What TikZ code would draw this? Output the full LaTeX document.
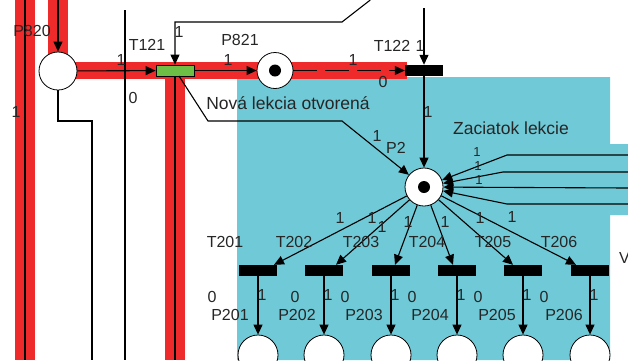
\documentclass[tikz,border=0pt]{standalone}
\usepackage{fontspec}
\setmainfont{Liberation Sans}
\usetikzlibrary{arrows.meta}
\definecolor{redband}{RGB}{238,42,42}
\definecolor{cyanbg}{RGB}{111,201,214}
\definecolor{greenT}{RGB}{108,190,69}
\begin{document}
\begin{tikzpicture}[x=1pt,y=-1pt,
  place/.style={circle,draw=black,fill=white,line width=0.8pt,minimum size=38pt,inner sep=0pt},
  tok/.style={circle,fill=black,minimum size=12pt,inner sep=0pt},
  trans/.style={rectangle,fill=black,minimum width=38pt,minimum height=11pt,inner sep=0pt},
  gtrans/.style={rectangle,draw=black,line width=0.8pt,fill=greenT,minimum width=38pt,minimum height=11pt,inner sep=0pt},
  arc/.style={line width=1.1pt,-{Triangle[length=10pt,width=9pt]}},
  wire/.style={line width=1.1pt},
  band/.style={redband,line width=20pt},
  lbl/.style={font=\fontsize{16}{16}\selectfont,inner sep=0pt,text=black!85},
  sml/.style={font=\fontsize{13}{13}\selectfont,inner sep=0pt,text=black!85},
  big/.style={font=\fontsize{17.5}{17.5}\selectfont,inner sep=0pt,text=black!85},
]
\useasboundingbox (0,0) rectangle (628,360);
\clip (0,0) rectangle (628,360);
% background
\fill[cyanbg] (237,77) -- (610,77) -- (610,144) -- (628,144) -- (628,215) -- (610,215) -- (610,360) -- (237,360) -- cycle;
% red bands
\draw[band] (25,0) -- (25,360);
\draw[band] (58,0) -- (58,70);
\draw[band,line width=17pt] (58,70.5) -- (407,70.5);
\draw[band] (175,70) -- (175,360);
% nodes
\node[place] (P820) at (58,71) {};
\node[place,minimum size=36pt] (P821) at (275,70.5) {};
\node[tok] (k821) at (P821) {};
\node[gtrans] (T121) at (175,70.5) {};
\node[trans] (T122) at (424,70.5) {};
\node[place] (P2) at (424,187) {};
\node[tok] (k2) at (P2) {};
\foreach \i/\x in {1/258,2/324,3/391,4/457,5/523,6/590}{
  \node[trans] (T20\i) at (\x,270.5) {};
  \node[place,minimum size=40pt] (P20\i) at (\x,355) {};
}
% coordinates
\coordinate (tA) at (370.3,0);
\coordinate (tB) at (342,22);
\coordinate (tC) at (175,22);
\coordinate (tD) at (424,8);
\coordinate (lTop) at (125,10);
\coordinate (lBot) at (125,360);
\coordinate (q1) at (58,121);
\coordinate (q2) at (92,121);
\coordinate (q3) at (92,360);
\coordinate (bl1) at (25,0);
\coordinate (bl2) at (25,360);
\coordinate (in820) at (58,0);
\coordinate (d0) at (179,76);
\coordinate (d1) at (208,121);
\coordinate (d2) at (342,121);
\coordinate (T121end) at (175,360);
\coordinate (r1a) at (628,155); \coordinate (r1b) at (507,155);
\coordinate (r2a) at (628,172); \coordinate (r2b) at (503,172);
\coordinate (r3a) at (628,188);
\coordinate (r4a) at (628,204); \coordinate (r4b) at (507,204);
\coordinate (e1) at ([xshift=16pt]T201.north);
\coordinate (e2) at ([xshift=12pt]T202.north);
\coordinate (e3) at ([xshift=4pt]T203.north);
\coordinate (e4) at ([xshift=-4pt]T204.north);
\coordinate (e5) at ([xshift=-10pt]T205.north);
\coordinate (e6) at ([xshift=-14pt]T206.north);
% connectors
\draw[wire] (bl1) -- (bl2);
\draw[wire] (lTop) -- (lBot);
\draw[arc] (in820) -- (P820);
\draw[wire] (P820.south) -- (q1) -- (q2) -- (q3);
\draw[arc] (P820) -- (T121);
\draw[arc] (T121) -- (P821);
\draw[arc,dash pattern=on 24pt off 8pt] (P821) -- (T122);
\draw[arc] (tA) -- (tB) -- (tC) -- (T121.north);
\draw[wire] (T121.south) -- (T121end);
\draw[arc] (d0) -- (d1) -- (d2) -- (P2);
\draw[arc] (tD) -- (T122.north);
\draw[arc] (T122) -- (P2);
\draw[arc] (r1a) -- (r1b) -- (P2);
\draw[arc] (r2a) -- (r2b) -- (P2);
\draw[arc] (r3a) -- (P2);
\draw[arc] (r4a) -- (r4b) -- (P2);
\foreach \i in {1,...,6}{
  \draw[arc] (P2) -- (e\i);
  \draw[arc] (T20\i) -- (P20\i);
}
% labels
\node[lbl] (lP820) at (32,31) {P820};
\node[lbl] (l1a) at (16,112) {1};
\node[lbl] (lT121) at (147,45) {T121};
\node[lbl] (l1b) at (121,60) {1};
\node[lbl] (l0a) at (133,98) {0};
\node[lbl] (l1c) at (179,32) {1};
\node[lbl] (lP821) at (240,40) {P821};
\node[lbl] (l1d) at (228,60) {1};
\node[big] (lNova) at (288,103) {Nová lekcia otvorená};
\node[lbl] (l1e) at (353,60) {1};
\node[lbl] (l0b) at (383,82) {0};
\node[lbl] (lT122) at (392,46) {T122};
\node[lbl] (l1f) at (420,46) {1};
\node[lbl] (l1g) at (428,112) {1};
\node[lbl] (l1h) at (377,136) {1};
\node[lbl] (lP2) at (396,148) {P2};
\node[big] (lZac) at (511,128) {Zaciatok lekcie};
\node[sml] (l1i) at (477,152) {1};
\node[sml] (l1j) at (478,166) {1};
\node[sml] (l1k) at (479,180) {1};
\foreach \x/\y in {340/218,372/218,382/227,408/222,445/222,480/218,512/217}{
  \node[lbl] at (\x,\y) {1};
}
\foreach \i/\x in {1/225,2/294,3/361,4/427,5/493,6/559}{
  \node[lbl] (lT20\i) at (\x,242) {T20\i};
}
\foreach \x in {262,328,395,461,527,594}{
  \node[lbl] at (\x,295) {1};
}
\foreach \x in {212,295,345,412,478,544}{
  \node[lbl] at (\x,297) {0};
}
\foreach \i/\x in {1/230,2/297,3/364,4/430,5/497,6/564}{
  \node[lbl] (lP20\i) at (\x,315) {P20\i};
}
\node[lbl,anchor=west] (lV) at (619,258) {V};
\end{tikzpicture}
\end{document}
